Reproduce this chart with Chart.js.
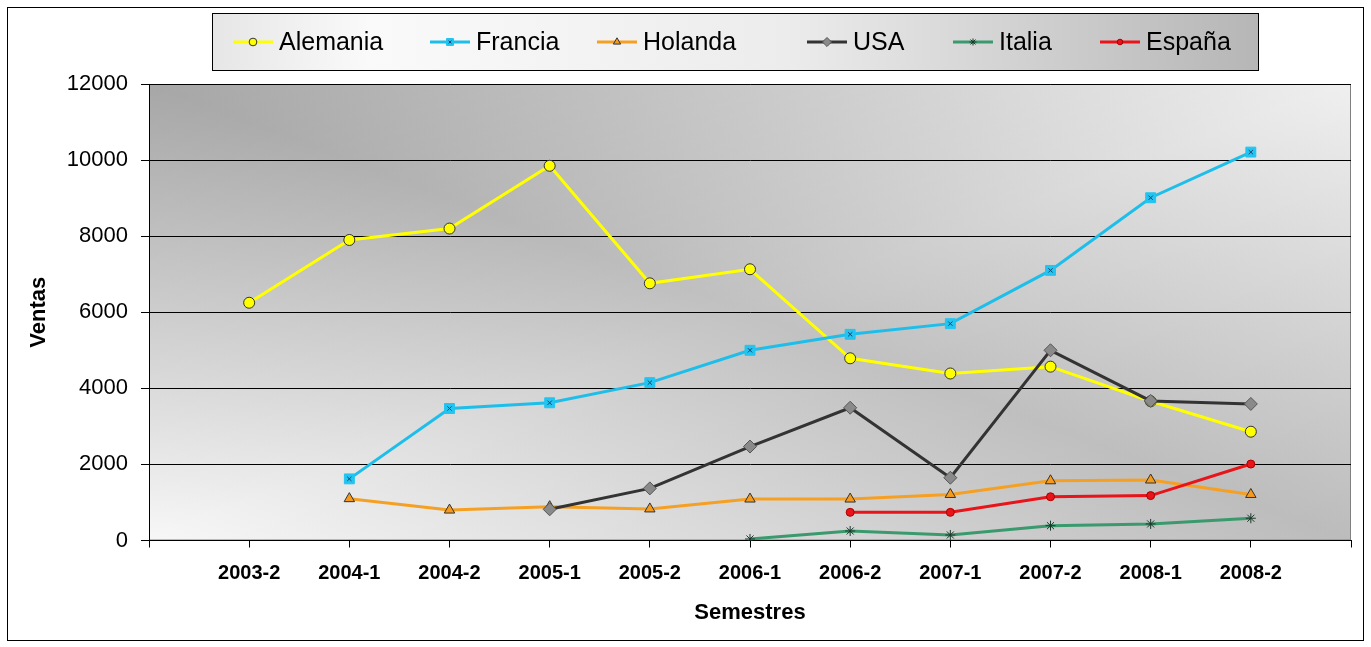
<!DOCTYPE html>
<html>
<head>
<meta charset="utf-8">
<title>Ventas por semestre</title>
<script src="https://cdn.jsdelivr.net/npm/chart.js@4.4.1/dist/chart.umd.min.js"></script>
<style>
  html, body { margin: 0; padding: 0; background: #fff; }
  .chart-box { position: relative; width: 1371px; height: 647px; }
</style>
</head>
<body>
<div class="chart-box"><canvas id="chart"></canvas></div>
<script>
// Data ------------------------
const semestres = ['2003-2', '2004-1', '2004-2', '2005-1', '2005-2', '2006-1', '2006-2', '2007-1', '2007-2', '2008-1', '2008-2'];
const alemania = [6250, 7900, 8200, 9850, 6760, 7130, 4790, 4390, 4570, 3660, 2860];
const francia = [null, 1620, 3470, 3620, 4150, 5000, 5420, 5700, 7100, 9010, 10210];
const holanda = [null, 1100, 800, 890, 830, 1090, 1090, 1210, 1570, 1590, 1210];
const usa = [null, null, null, 820, 1370, 2470, 3490, 1650, 5000, 3670, 3590];
const italia = [null, null, null, null, null, 40, 250, 145, 390, 435, 585];
const espana = [null, null, null, null, null, null, 740, 740, 1150, 1180, 2010];
const yTicks = [0, 2000, 4000, 6000, 8000, 10000, 12000];

// Constants -------------------
const FONT = 'Arial, "Liberation Sans", sans-serif';
const LEGEND_X = [233, 430, 597, 807, 953, 1100];

// empty slot before the first and after the last semester
const pad = arr => [null, ...arr, null];

const makeSet = (label, data, color, marker) => ({
  label,
  data: pad(data),
  borderColor: color,
  backgroundColor: color,
  borderWidth: 3,
  tension: 0,
  spanGaps: false,
  pointStyle: marker.style,
  pointRadius: marker.radius,
  pointHoverRadius: marker.radius,
  pointBackgroundColor: marker.fill,
  pointBorderColor: marker.border,
  pointBorderWidth: 1,
});

const datasets = [
  makeSet('Alemania', alemania, '#ffff00', { style: 'circle', radius: 5.5, fill: '#ffff00', border: '#333' }),
  makeSet('Francia', francia, '#1ebeea', { style: 'rect', radius: 7, fill: '#22c4f0', border: '#22c4f0' }),
  makeSet('Holanda', holanda, '#f5a023', { style: 'triangle', radius: 6, fill: '#f59a1c', border: '#333' }),
  makeSet('USA', usa, '#333333', { style: 'rectRot', radius: 6.5, fill: '#8a8a8a', border: '#555' }),
  makeSet('Italia', italia, '#3a9a6e', { style: 'star', radius: 5, fill: '#3a9a6e', border: '#1c3a2c' }),
  makeSet('España', espana, '#e8141a', { style: 'circle', radius: 4, fill: '#e8141a', border: '#a00' }),
];
// Excel order: first series at the bottom
datasets.forEach((ds, i) => { ds.order = datasets.length - i; });

// Plugins ---------------------
const backdrop = {
  id: 'backdrop',
  beforeDraw(chart) {
    const { ctx, width, height, chartArea: a } = chart;
    ctx.save();
    ctx.fillStyle = '#fff';
    ctx.fillRect(0, 0, width, height);
    ctx.strokeStyle = '#000';
    ctx.lineWidth = 1;
    ctx.strokeRect(7.5, 7.5, 1356, 633);

    // diagonal shading of the plot area
    ctx.save();
    ctx.translate(a.left, a.top);
    ctx.scale(a.width, a.height);
    let g = ctx.createLinearGradient(0, 1, 1, 0);
    g.addColorStop(0, '#f7f7f7');
    g.addColorStop(0.5, '#c2c2c2');
    g.addColorStop(1, '#efefef');
    ctx.fillStyle = g;
    ctx.fillRect(0, 0, 1, 1);
    g = ctx.createLinearGradient(0, 0, 1, 1);
    g.addColorStop(0, 'rgba(0,0,0,0.14)');
    g.addColorStop(0.5, 'rgba(0,0,0,0)');
    g.addColorStop(1, 'rgba(0,0,0,0.03)');
    ctx.fillStyle = g;
    ctx.fillRect(0, 0, 1, 1);
    ctx.restore();

    ctx.strokeStyle = '#808080';
    ctx.strokeRect(a.left + 0.5, a.top + 0.5, a.width - 1, a.height - 1);
    ctx.restore();
  },
};

// small x inside the Francia squares
const crossMarks = {
  id: 'crossMarks',
  afterDatasetsDraw(chart) {
    const { ctx } = chart;
    const meta = chart.getDatasetMeta(1);
    ctx.save();
    ctx.strokeStyle = '#1b3f6e';
    meta.data.forEach(pt => {
      if (pt.skip) return;
      Chart.helpers.drawPoint(ctx, { pointStyle: 'crossRot', radius: 3, borderWidth: 1, rotation: 0 }, pt.x, pt.y);
    });
    ctx.restore();
  },
};

const legendBox = {
  id: 'legendBox',
  afterDraw(chart) {
    const { ctx } = chart;
    const x0 = 212, y0 = 13, w = 1046, h = 57, cy = 42;
    ctx.save();
    const g = ctx.createLinearGradient(x0, 0, x0 + w, 0);
    g.addColorStop(0, '#e6e6e6');
    g.addColorStop(0.15, '#fafafa');
    g.addColorStop(0.55, '#ececec');
    g.addColorStop(1, '#b6b6b6');
    ctx.fillStyle = g;
    ctx.fillRect(x0, y0, w, h);
    ctx.strokeStyle = '#000';
    ctx.lineWidth = 1;
    ctx.strokeRect(x0 + 0.5, y0 + 0.5, w, h);

    chart.data.datasets.forEach((ds, i) => {
      const sx = LEGEND_X[i];
      ctx.strokeStyle = ds.borderColor;
      ctx.lineWidth = 3;
      ctx.beginPath();
      ctx.moveTo(sx, cy);
      ctx.lineTo(sx + 40, cy);
      ctx.stroke();
      ctx.fillStyle = ds.pointBackgroundColor;
      ctx.strokeStyle = ds.pointBorderColor;
      ctx.lineWidth = 1;
      Chart.helpers.drawPoint(ctx, { pointStyle: ds.pointStyle, radius: ds.pointRadius * 0.7, borderWidth: 1, rotation: 0 }, sx + 20, cy);
      if (i === 1) {
        ctx.strokeStyle = '#1b3f6e';
        Chart.helpers.drawPoint(ctx, { pointStyle: 'crossRot', radius: 2, borderWidth: 1, rotation: 0 }, sx + 20, cy);
      }
      ctx.fillStyle = '#000';
      ctx.font = `25px ${FONT}`;
      ctx.textBaseline = 'middle';
      ctx.textAlign = 'left';
      ctx.fillText(ds.label, sx + 46, cy + 1);
    });
    ctx.restore();
  },
};

// Chart -----------------------
new Chart(document.getElementById('chart'), {
  type: 'line',
  data: { labels: ['', ...semestres, ''], datasets },
  options: {
    responsive: true,
    maintainAspectRatio: false,
    animation: false,
    events: [],
    layout: { padding: { left: 8, right: 20, top: 84, bottom: 6.5 } },
    plugins: { legend: { display: false }, tooltip: { enabled: false } },
    scales: {
      x: {
        offset: false,
        grid: { drawOnChartArea: false, drawTicks: true, tickLength: 7, color: '#000', lineWidth: 1 },
        border: { display: true, color: '#000', width: 1 },
        ticks: {
          autoSkip: false, maxRotation: 0, minRotation: 0, padding: 14, color: '#000',
          font: { family: FONT, size: 20, weight: 'bold' },
        },
        title: {
          display: true, text: 'Semestres', color: '#000',
          font: { family: FONT, size: 22, weight: 'bold' },
          padding: { top: 0, bottom: 14 },
        },
        afterFit(scale) { scale.height = 100; },
      },
      y: {
        min: yTicks[0],
        max: yTicks[yTicks.length - 1],
        grid: { color: '#000', lineWidth: 1, tickLength: 8, drawTicks: true },
        border: { display: true, color: '#000', width: 1 },
        ticks: {
          stepSize: yTicks[1] - yTicks[0], padding: 13, color: '#000',
          font: { family: FONT, size: 22 },
          callback: v => String(v),
        },
        title: {
          display: true, text: 'Ventas', color: '#000',
          font: { family: FONT, size: 22, weight: 'bold' },
          padding: { top: 18, bottom: 0 },
        },
        afterFit(scale) { scale.width = 141; },
      },
    },
  },
  plugins: [backdrop, crossMarks, legendBox],
});
</script>
</body>
</html>
